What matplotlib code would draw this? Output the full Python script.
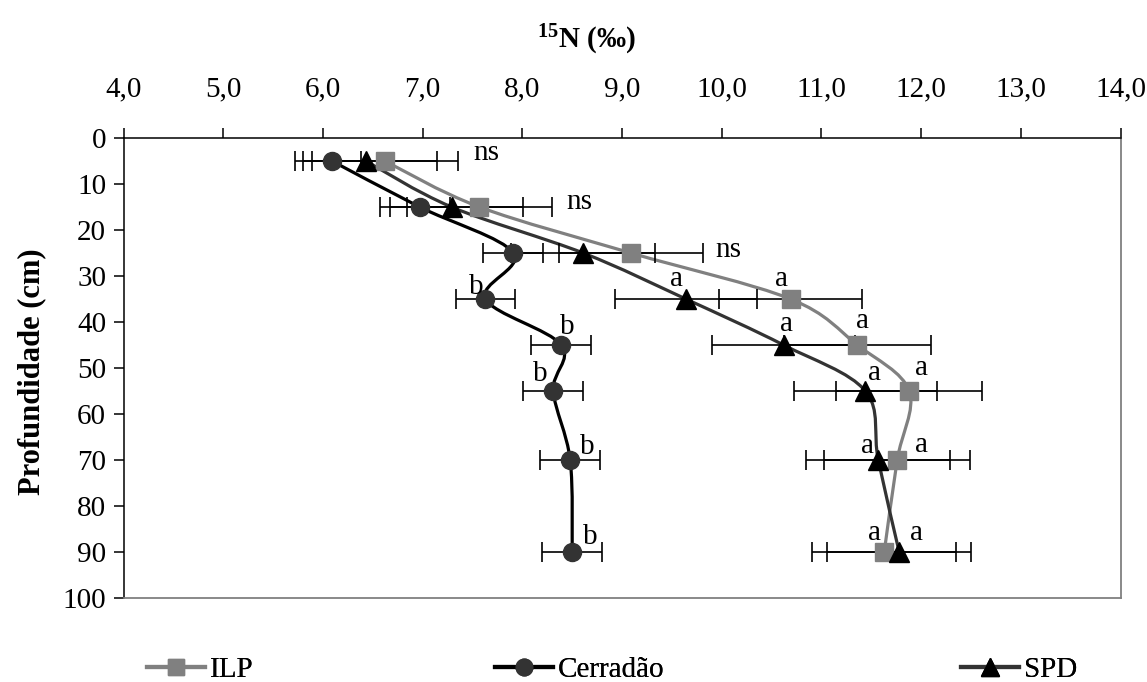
import numpy as np
import matplotlib
matplotlib.use("Agg")
import matplotlib.pyplot as plt
from matplotlib.path import Path
from matplotlib.patches import PathPatch
from matplotlib.lines import Line2D
from matplotlib.ticker import FuncFormatter

plt.rcParams['font.family'] = ['Liberation Serif', 'DejaVu Serif']
plt.rcParams['mathtext.fontset'] = 'custom'
plt.rcParams['mathtext.rm'] = 'Liberation Serif'
plt.rcParams['mathtext.bf'] = 'Liberation Serif:bold'

# ---------------- data ----------------
depth = [5, 15, 25, 35, 45, 55, 70, 90]
ilp = [6.62, 7.57, 9.09, 10.69, 11.36, 11.88, 11.76, 11.63]
ilp_err = [0.73, 0.73, 0.72, 0.72, 0.74, 0.73, 0.73, 0.72]
cerradao = [6.09, 6.97, 7.91, 7.63, 8.39, 8.31, 8.48, 8.50]
cerradao_err = [0.29, 0.30, 0.30, 0.30, 0.30, 0.30, 0.30, 0.30]
spd = [6.43, 7.29, 8.61, 9.64, 10.62, 11.44, 11.57, 11.78]
spd_err = [0.71, 0.72, 0.72, 0.71, 0.72, 0.72, 0.72, 0.72]
series_names = ["ILP", "Cerradão", "SPD"]
x_ticks = [4, 5, 6, 7, 8, 9, 10, 11, 12, 13, 14]
y_ticks = [0, 10, 20, 30, 40, 50, 60, 70, 80, 90, 100]

# significance letters: (depth index, text)
ns_labels = [(0, "ns"), (1, "ns"), (2, "ns")]
cerr_letters = [(3, "b"), (4, "b"), (5, "b"), (6, "b"), (7, "b")]
spd_letters = [(3, "a"), (4, "a"), (5, "a"), (6, "a"), (7, "a")]
ilp_letters = [(3, "a"), (4, "a"), (5, "a"), (6, "a"), (7, "a")]

# label offsets in pixels (dx right, dy down) relative to the point, baseline anchored
ns_off = [(102, -1), (100, 2), (97, 4)]
cerr_off = [(-9, -5), (6, -11), (-13, -10), (17, -6), (18, -8)]
spd_off = [(-9, -13), (3, -14), (9, -11), (-11, -7), (17, -12)]
ilp_off = [(-9, -13), (5, -17), (12, -16), (24, -8), (-10, -12)]

# ---------------- figure ----------------
W, H = 1147, 682
fig = plt.figure(figsize=(W / 100, H / 100), dpi=100)
ax = fig.add_axes([123.6 / W, 1 - 598 / H, (1120.5 - 123.6) / W, (598 - 138) / H])

ax.set_xlim(4, 14)
ax.set_ylim(100, 0)


def smooth_path(xs, ys):
    pts = np.column_stack([xs, ys]).astype(float)
    n = len(pts)
    verts = [pts[0]]
    codes = [Path.MOVETO]
    for i in range(n - 1):
        p0 = pts[i - 1] if i > 0 else pts[i]
        p1 = pts[i]
        p2 = pts[i + 1]
        p3 = pts[i + 2] if i + 2 < n else pts[i + 1]
        c1 = p1 + (p2 - p0) / 6.0
        c2 = p2 - (p3 - p1) / 6.0
        verts += [c1, c2, p2]
        codes += [Path.CURVE4] * 3
    return Path(verts, codes)


styles = [
    dict(vals=ilp, err=ilp_err, line='#808080', mfc='#808080', marker='s', ms=13),
    dict(vals=cerradao, err=cerradao_err, line='#000000', mfc='#333333', marker='o', ms=13),
    dict(vals=spd, err=spd_err, line='#333333', mfc='#000000', marker='^', ms=14),
]

for st in styles:
    patch = PathPatch(smooth_path(st['vals'], depth), facecolor='none',
                      edgecolor=st['line'], lw=2.3, zorder=2, capstyle='round')
    ax.add_patch(patch)
    ax.errorbar(st['vals'], depth, xerr=st['err'], fmt='none', ecolor='black',
                elinewidth=1.2, capsize=7, capthick=1.2, zorder=3)
    ax.plot(st['vals'], depth, linestyle='none', marker=st['marker'],
            markersize=st['ms'], markerfacecolor=st['mfc'],
            markeredgecolor=st['mfc'], zorder=4)

lab_fs = 21


def put(lbls, offs, vals):
    for (i, t), (dx, dy) in zip(lbls, offs):
        ax.annotate(t, (vals[i], depth[i]), xytext=(dx * 0.72, -dy * 0.72),
                    textcoords='offset points', ha='center', va='baseline',
                    fontsize=lab_fs, zorder=5)


put(ns_labels, ns_off, ilp)
put(cerr_letters, cerr_off, cerradao)
put(spd_letters, spd_off, spd)
put(ilp_letters, ilp_off, ilp)

# axes styling
ax.xaxis.tick_top()
ax.set_xticks(x_ticks)
ax.set_yticks(y_ticks)
ax.xaxis.set_major_formatter(FuncFormatter(lambda v, p: f"{v:.1f}".replace('.', ',')))
ax.tick_params(axis='x', direction='out', length=7.5, width=1.1, pad=18,
               labelsize=21, top=True, bottom=False)
ax.tick_params(axis='y', direction='out', length=7.5, width=1.1, pad=5,
               labelsize=21)
ax.spines['left'].set_color('black')
ax.spines['top'].set_color('black')
ax.spines['left'].set_linewidth(1.1)
ax.spines['top'].set_linewidth(1.1)
ax.spines['right'].set_color('#808080')
ax.spines['bottom'].set_color('#808080')
ax.spines['right'].set_linewidth(1.3)
ax.spines['bottom'].set_linewidth(1.3)

fig.text(586 / W, 1 - 40 / H, r"$\mathbf{^{15}}$N (‰)", ha='center', va='center',
         fontsize=21, fontweight='bold')
fig.text(32 / W, 1 - 372 / H, "Profundidade (cm)", rotation=90, ha='center',
         va='center', fontsize=22, fontweight='bold')

# legend (three entries spread along the bottom)
leg_x = [147, 495, 961]
for st, name, lx in zip(styles, series_names, leg_x):
    h = Line2D([], [], color=st['line'], lw=3, marker=st['marker'],
               markersize=st['ms'] - 1, markerfacecolor=st['mfc'],
               markeredgecolor=st['mfc'])
    lg = fig.legend([h], [name], loc='center left',
                    bbox_to_anchor=(lx / W, 1 - 670 / H), frameon=False,
                    fontsize=21, handlelength=2.0, handletextpad=0.15,
                    borderpad=0, borderaxespad=0)
    fig.add_artist(lg)

fig.savefig("out.png", dpi=100)
